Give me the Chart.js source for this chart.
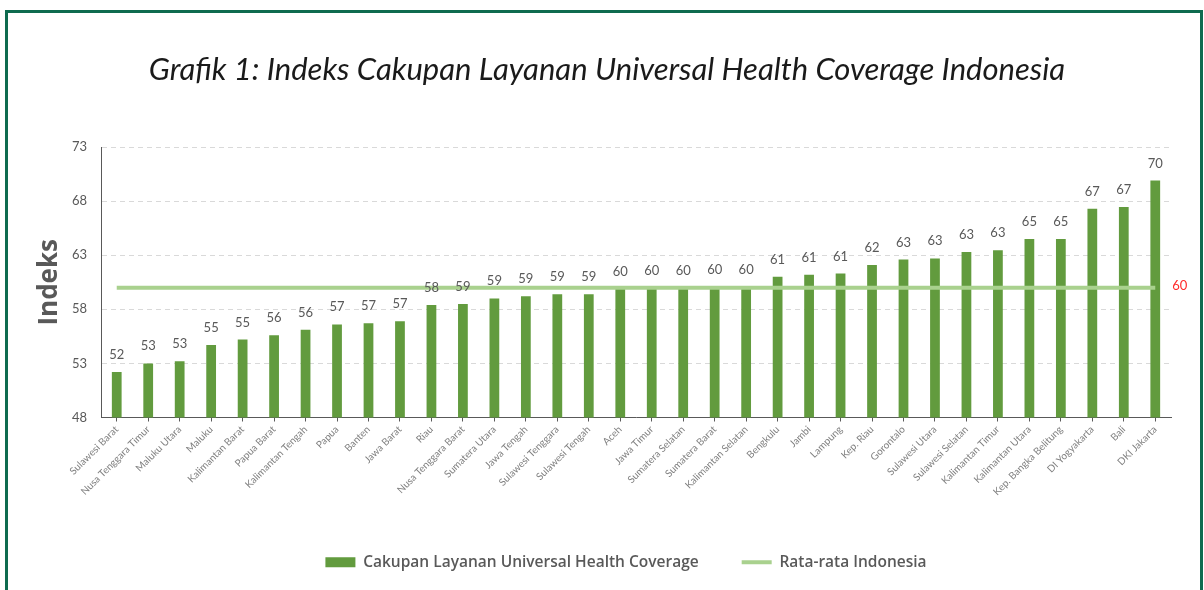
<!DOCTYPE html>
<html>
<head>
<meta charset="utf-8">
<script src="https://cdn.jsdelivr.net/npm/chart.js@4"></script>
<style>
  html, body { margin: 0; padding: 0; background: #fff; overflow: hidden; }
  #wrap { position: relative; width: 1204px; height: 590px; }
  #frame { position: absolute; left: 5px; top: 10px; width: 1192px; height: 600px; border: 3px solid #0e6b4f; pointer-events: none; }
</style>
</head>
<body>
<div id="wrap">
  <canvas id="ukk-chart" width="1204" height="590"></canvas>
  <div id="frame"></div>
</div>
<script>
const provinces = [
  'Sulawesi Barat', 'Nusa Tenggara Timur', 'Maluku Utara', 'Maluku', 'Kalimantan Barat',
  'Papua Barat', 'Kalimantan Tengah', 'Papua', 'Banten', 'Jawa Barat', 'Riau',
  'Nusa Tenggara Barat', 'Sumatera Utara', 'Jawa Tengah', 'Sulawesi Tenggara', 'Sulawesi Tengah',
  'Aceh', 'Jawa Timur', 'Sumatera Selatan', 'Sumatera Barat', 'Kalimantan Selatan', 'Bengkulu',
  'Jambi', 'Lampung', 'Kep. Riau', 'Gorontalo', 'Sulawesi Utara', 'Sulawesi Selatan',
  'Kalimantan Timur', 'Kalimantan Utara', 'Kep. Bangka Belitung', 'DI Yogyakarta', 'Bali', 'DKI Jakarta'
];
const coverage = [
  52.2, 53.0, 53.2, 54.7, 55.2, 55.6, 56.1, 56.6, 56.7, 56.9, 58.4,
  58.5, 59.0, 59.2, 59.4, 59.4,
  59.9, 60.0, 60.0, 60.1, 60.1, 61.0,
  61.2, 61.3, 62.1, 62.6, 62.7, 63.3,
  63.45, 64.5, 64.5, 67.3, 67.45, 69.9
];
const nationalAvg = 60;
const avgLine = provinces.map(() => nationalAvg);
const yTicks = { min: 48, max: 73, step: 5 };

const grey = '#595959';

const valueLabels = {
  id: 'valueLabels',
  afterLayout(chart) {
    // legend row width includes a trailing gap, nudge it back to centre
    chart.legend.left += 24;
    chart.legend.right += 24;
    chart.titleBlock.left += 5;
    chart.titleBlock.right += 5;
  },
  afterDatasetsDraw(chart) {
    const ctx = chart.ctx;
    ctx.save();
    ctx.font = '13px Lato';
    ctx.fillStyle = grey;
    ctx.textAlign = 'center';
    ctx.textBaseline = 'alphabetic';
    chart.getDatasetMeta(0).data.forEach((bar, i) => {
      ctx.fillText(String(Math.round(coverage[i])), bar.x, bar.y - 13);
    });
    const pts = chart.getDatasetMeta(1).data;
    const last = pts[pts.length - 1];
    ctx.fillStyle = '#ff2b2b';
    ctx.textAlign = 'left';
    ctx.textBaseline = 'middle';
    ctx.fillText(String(nationalAvg), last.x + 17, last.y - 2);
    ctx.restore();
  }
};

new Chart(document.getElementById('ukk-chart'), {
  type: 'bar',
  data: {
    labels: provinces,
    datasets: [
      {
        label: 'Cakupan Layanan Universal Health Coverage',
        data: coverage,
        backgroundColor: '#629b3e',
        borderColor: '#629b3e',
        barPercentage: 0.31,
        categoryPercentage: 1,
        order: 1
      },
      {
        type: 'line',
        label: 'Rata-rata Indonesia',
        data: avgLine,
        borderColor: '#a9d18e',
        backgroundColor: '#a9d18e',
        borderWidth: 4,
        pointRadius: 0,
        pointStyle: 'line',
        order: 0
      }
    ]
  },
  options: {
    responsive: false,
    animation: false,
    layout: { padding: { left: 0, right: 0, top: 0, bottom: 10 } },
    plugins: {
      tooltip: { enabled: false },
      title: {
        display: true,
        text: 'Grafik 1: Indeks Cakupan Layanan Universal Health Coverage Indonesia',
        color: '#1a1a1a',
        font: { family: 'Lato', size: 31, style: 'italic', weight: 'normal' },
        padding: { top: 51, bottom: 58.8 }
      },
      legend: {
        position: 'bottom',
        labels: {
          usePointStyle: true,
          pointStyleWidth: 30,
          boxHeight: 10,
          padding: 43,
          color: grey,
          font: { family: 'Open Sans', size: 15.5, weight: 600 },
          generateLabels(chart) {
            return chart.data.datasets.map((ds, i) => ({
              text: ds.label,
              fillStyle: ds.backgroundColor,
              strokeStyle: ds.borderColor,
              lineWidth: i === 0 ? 0 : 4,
              pointStyle: i === 0 ? 'rect' : 'line',
              fontColor: grey,
              datasetIndex: i,
              hidden: false
            }));
          }
        }
      }
    },
    scales: {
      x: {
        afterFit(scale) { scale.height = 94; },
        grid: { display: true, drawOnChartArea: false, drawTicks: true, tickLength: 4, offset: false, color: grey },
        border: { display: true, color: grey, width: 1 },
        ticks: {
          autoSkip: false,
          minRotation: 45,
          maxRotation: 45,
          padding: 2,
          color: '#808080',
          font: { family: 'Lato', size: 10 }
        }
      },
      y: {
        min: yTicks.min,
        max: yTicks.max,
        afterFit(scale) { scale.width = 101; },
        ticks: {
          stepSize: yTicks.step,
          padding: 14,
          color: grey,
          font: { family: 'Lato', size: 13 }
        },
        grid: { color: '#d9d9d9', drawTicks: false, lineWidth: 1 },
        border: { display: true, color: grey, width: 1, dash: [5, 4] },
        title: {
          display: true,
          text: 'Indeks',
          color: grey,
          font: { family: 'Open Sans', size: 26, weight: 'bold' },
          padding: { top: 34, bottom: 0 }
        }
      },
      yRight: {
        position: 'right',
        min: yTicks.min,
        max: yTicks.max,
        afterFit(scale) { scale.width = 33; },
        ticks: { display: false },
        grid: { drawOnChartArea: false, drawTicks: false },
        border: { display: false }
      }
    }
  },
  plugins: [valueLabels]
});
</script>
</body>
</html>
